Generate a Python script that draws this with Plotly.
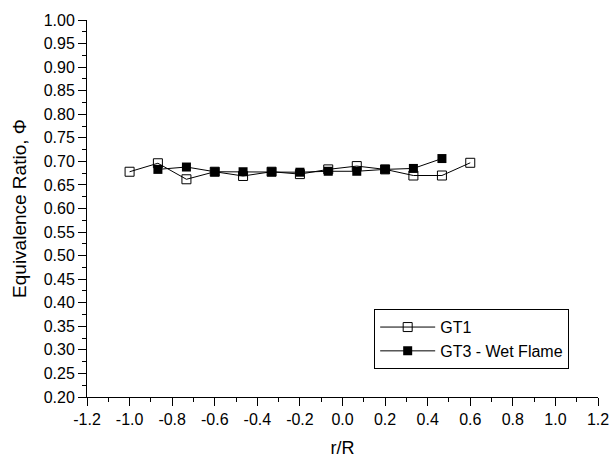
import plotly.graph_objects as go

# Data
x_gt1 = [-1.0, -0.867, -0.733, -0.6, -0.467, -0.333, -0.2, -0.067, 0.067, 0.2, 0.333, 0.467, 0.6]
phi_gt1 = [0.678, 0.696, 0.662, 0.678, 0.669, 0.678, 0.673, 0.683, 0.690, 0.683, 0.670, 0.670, 0.697]
x_gt3 = [-0.867, -0.733, -0.6, -0.467, -0.333, -0.2, -0.067, 0.067, 0.2, 0.333, 0.467]
phi_gt3 = [0.683, 0.688, 0.678, 0.678, 0.678, 0.677, 0.679, 0.679, 0.683, 0.685, 0.706]

x_ticks = [-1.2, -1.0, -0.8, -0.6, -0.4, -0.2, 0.0, 0.2, 0.4, 0.6, 0.8, 1.0, 1.2]
x_ticktext = ["-1.2", "-1.0", "-0.8", "-0.6", "-0.4", "-0.2", "0.0", "0.2", "0.4", "0.6", "0.8", "1.0", "1.2"]
y_ticks = [round(0.20 + 0.05 * i, 2) for i in range(17)]
y_ticktext = [f"{v:.2f}" for v in y_ticks]

fig = go.Figure()
fig.add_trace(go.Scatter(
    x=x_gt1, y=phi_gt1, mode="lines+markers", name="GT1",
    line=dict(color="black", width=1),
    marker=dict(symbol="square-open", size=9, color="black", line=dict(width=1)),
))
fig.add_trace(go.Scatter(
    x=x_gt3, y=phi_gt3, mode="lines+markers", name="GT3 - Wet Flame",
    line=dict(color="black", width=1),
    marker=dict(symbol="square", size=9, color="black"),
))

font_family = "Liberation Sans, Arial, sans-serif"
fig.update_layout(
    width=612, height=458,
    margin=dict(l=87, r=14, t=20, b=61),
    paper_bgcolor="white", plot_bgcolor="white",
    font=dict(family=font_family, size=16, color="black"),
    showlegend=True,
    legend=dict(
        x=0.562, y=0.233, xanchor="left", yanchor="top",
        bordercolor="black", borderwidth=1, bgcolor="white",
        font=dict(size=16), tracegroupgap=0, itemwidth=55,
    ),
    xaxis=dict(
        range=[-1.2, 1.2], tickvals=x_ticks, ticktext=x_ticktext,
        showgrid=False, zeroline=False, showline=True, linecolor="black", linewidth=1,
        ticks="outside", ticklen=8, tickcolor="black", automargin=False,
        minor=dict(ticks="outside", dtick=0.1, ticklen=4, tickcolor="black", showgrid=False),
        title=dict(text="r/R", font=dict(size=18), standoff=16),
        tickfont=dict(size=16),
    ),
    yaxis=dict(
        range=[0.20, 1.00], tickvals=y_ticks, ticktext=y_ticktext,
        showgrid=False, zeroline=False, showline=True, linecolor="black", linewidth=1,
        ticks="outside", ticklen=8, tickcolor="black", automargin=False,
        minor=dict(ticks="outside", dtick=0.025, ticklen=4, tickcolor="black", showgrid=False),
        title=dict(text="Equivalence Ratio, Φ", font=dict(size=19), standoff=12),
        tickfont=dict(size=16),
    ),
)

fig.write_html("out.html")
